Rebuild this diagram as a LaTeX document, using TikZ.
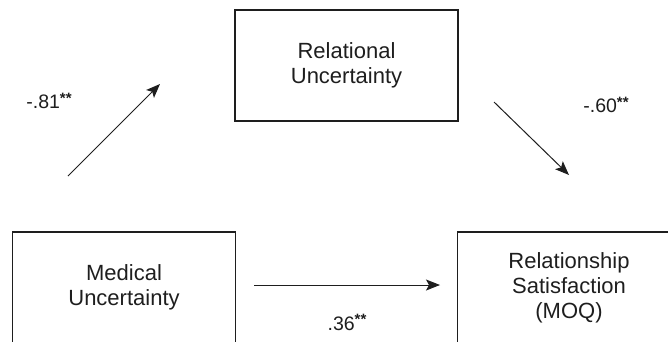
\documentclass[tikz,border=0pt]{standalone}
\usepackage{fontspec}
\setmainfont{Liberation Sans}
\usetikzlibrary{arrows.meta}
\definecolor{ink}{HTML}{1E1E1E}
\newcommand{\stars}{\raisebox{0.3em}{\fontsize{15}{15}\selectfont\bfseries **}}
\begin{document}
\begin{tikzpicture}[x=1pt,y=-1pt,
  varbox/.style={draw=ink, line width=1.4pt, minimum width=223pt, minimum height=111pt,
    inner sep=0pt, align=center, text=ink, font=\fontsize{22}{25}\selectfont},
  coef/.style={text=ink, inner sep=0pt, font=\fontsize{19.5}{22}\selectfont},
  path/.style={draw=ink, line width=1pt, -{Stealth[length=14pt,width=11pt,inset=3pt]}}]
\useasboundingbox (0,0) rectangle (668,341);
\clip (0,0) rectangle (668,341);
\node[varbox] (rel) at (346.5,65.5) {Relational\\Uncertainty};
\node[varbox] (med) at (124,287.5) {Medical\\Uncertainty};
\node[varbox] (sat) at (569,287.5) {Relationship\\Satisfaction\\(MOQ)};
\coordinate (a1s) at (68,176);
\coordinate (a1e) at (160,84);
\coordinate (a2s) at (494,102);
\coordinate (a2e) at (569,175);
\coordinate (a3s) at (254,285);
\coordinate (a3e) at (440,285);
\draw[path] (a1s) -- (a1e);
\draw[path] (a2s) -- (a2e);
\draw[path] (a3s) -- (a3e);
\node[coef] (c1) at (49,101) {-.81\stars};
\node[coef] (c2) at (606,105) {-.60\stars};
\node[coef] (c3) at (347,322) {.36\stars};
\end{tikzpicture}
\end{document}
